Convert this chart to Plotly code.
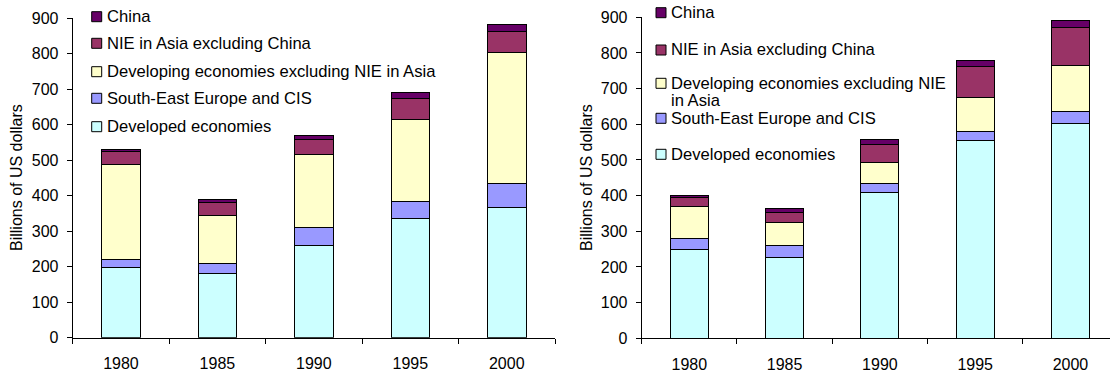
import plotly.graph_objects as go

# ---- data -------------------------------------------------------------
years = ["1980", "1985", "1990", "1995", "2000"]

series_names = [
    "Developed economies",
    "South-East Europe and CIS",
    "Developing economies excluding NIE in Asia",
    "NIE in Asia excluding China",
    "China",
]

# left panel (billions of US dollars)
developed_a = [197, 181, 261, 335, 367]
see_cis_a = [24, 27, 49, 48, 68]
developing_a = [267, 137, 205, 232, 368]
nie_asia_a = [37, 36, 42, 59, 59]
china_a = [5, 9, 14, 16, 21]

# right panel (billions of US dollars)
developed_b = [248, 227, 409, 555, 602]
see_cis_b = [32, 33, 25, 24, 33]
developing_b = [89, 66, 58, 96, 129]
nie_asia_b = [26, 28, 52, 87, 107]
china_b = [6, 10, 14, 16, 20]

y_ticks = [0, 100, 200, 300, 400, 500, 600, 700, 800, 900]
y_title = "Billions of US dollars"

# ---- styling ----------------------------------------------------------
W, H = 1110, 374
FONT = "Liberation Sans, Arial, sans-serif"
LEGEND_SIZE = 16.6
colors = ["#CCFFFF", "#9999FF", "#FFFFCC", "#993366", "#660066"]

panel_a = [developed_a, see_cis_a, developing_a, nie_asia_a, china_a]
panel_b = [developed_b, see_cis_b, developing_b, nie_asia_b, china_b]

fig = go.Figure()

for vals, name, col in zip(panel_a, series_names, colors):
    fig.add_trace(go.Bar(
        x=years, y=vals, name=name, xaxis="x", yaxis="y",
        marker=dict(color=col, line=dict(color="#000000", width=1)),
        showlegend=False,
    ))
for vals, name, col in zip(panel_b, series_names, colors):
    fig.add_trace(go.Bar(
        x=years, y=vals, name=name, xaxis="x2", yaxis="y2",
        marker=dict(color=col, line=dict(color="#000000", width=1)),
        showlegend=False,
    ))


def px_x(v):
    return v / W


def px_y(v):
    return 1 - v / H


common_x = dict(
    type="category", tickson="boundaries", ticks="outside", ticklen=5,
    tickcolor="#000000", showline=True, linecolor="#000000", linewidth=1,
    showgrid=False, zeroline=False, ticklabelstandoff=11, automargin=False,
    tickfont=dict(family=FONT, size=16, color="#000000"),
)
common_y = dict(
    range=[0, 900], tickvals=y_ticks, ticks="outside", ticklen=5,
    tickcolor="#000000", showline=True, linecolor="#000000", linewidth=1,
    showgrid=False, zeroline=False, ticklabelstandoff=5, automargin=False,
    tickfont=dict(family=FONT, size=16, color="#000000"),
)

fig.update_layout(
    width=W, height=H,
    margin=dict(l=0, r=0, t=0, b=0, autoexpand=False),
    paper_bgcolor="#FFFFFF", plot_bgcolor="#FFFFFF",
    barmode="stack", bargap=0.6,
    font=dict(family=FONT, size=16, color="#000000"),
    xaxis=dict(domain=[px_x(72.7), px_x(555)], range=[-0.5, 4.5],
               anchor="y", **common_x),
    yaxis=dict(domain=[px_y(337.7), px_y(18.2)], anchor="x", **common_y),
    xaxis2=dict(domain=[px_x(641.7), 1.0], range=[-0.5, 4.415],
                anchor="y2", **common_x),
    yaxis2=dict(domain=[px_y(338.3), px_y(17.3)], anchor="x2", **common_y),
)

# ---- legends (drawn top-down: China first) -----------------------------
# each entry: list of text lines; the box sits beside the first line
legend_a = dict(box_x=91.7, text_x=104.5, line_gap=17.7,
                rows=[16.7, 43.3, 71.7, 98.3, 126.7],
                labels=[[n] for n in reversed(series_names)])
legend_b = dict(box_x=656, text_x=668.5, line_gap=17.7,
                rows=[12.7, 50, 83.3, 118.3, 154.3],
                labels=[["China"], ["NIE in Asia excluding China"],
                        ["Developing economies excluding NIE", "in Asia"],
                        ["South-East Europe and CIS"], ["Developed economies"]])

shapes, annotations = [], []
for leg in (legend_a, legend_b):
    for yc, lines, col in zip(leg["rows"], leg["labels"], list(reversed(colors))):
        shapes.append(dict(
            type="rect", xref="paper", yref="paper",
            x0=px_x(leg["box_x"]), x1=px_x(leg["box_x"] + 10),
            y0=px_y(yc + 5), y1=px_y(yc - 5),
            fillcolor=col, line=dict(color="#000000", width=1),
        ))
        for i, line in enumerate(lines):
            annotations.append(dict(
                text=line, xref="paper", yref="paper",
                x=px_x(leg["text_x"]), y=px_y(yc + i * leg["line_gap"]),
                xanchor="left", yanchor="middle", align="left",
                showarrow=False,
                font=dict(family=FONT, size=LEGEND_SIZE, color="#000000"),
            ))

# rotated y-axis titles
for x_center, y_center in ((16, 178), (586, 178)):
    annotations.append(dict(
        text=y_title, xref="paper", yref="paper",
        x=px_x(x_center), y=px_y(y_center), xanchor="center", yanchor="middle",
        textangle=-90, showarrow=False,
        font=dict(family=FONT, size=16, color="#000000"),
    ))

fig.update_layout(shapes=shapes, annotations=annotations)

fig.write_html("out.html")
